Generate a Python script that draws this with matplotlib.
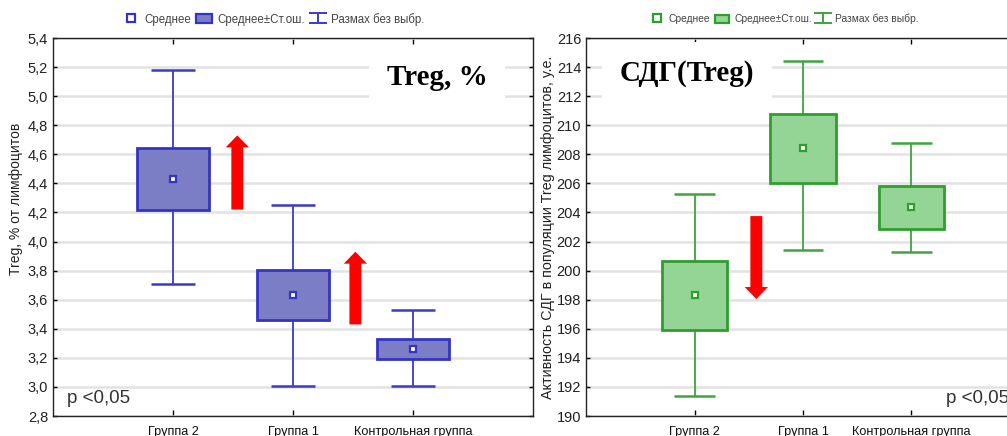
import matplotlib
matplotlib.use("Agg")
import matplotlib.pyplot as plt
from matplotlib.patches import Rectangle
from matplotlib.lines import Line2D
from matplotlib.path import Path
from matplotlib.ticker import FuncFormatter, MultipleLocator

plt.rcParams["font.family"] = ["Liberation Sans", "DejaVu Sans"]

# ---- data -------------------------------------------------------------
groups = ["Группа 2", "Группа 1", "Контрольная группа"]

treg_mean = [4.43, 3.635, 3.26]
treg_se = [0.215, 0.172, 0.07]
treg_min = [3.705, 3.005, 3.005]
treg_max = [5.18, 4.25, 3.527]

sdg_mean = [198.3, 208.4, 204.35]
sdg_se = [2.38, 2.4, 1.5]
sdg_min = [191.4, 201.4, 201.25]
sdg_max = [205.25, 214.45, 208.75]

# arrows: x position, start value, end value
treg_arrow_x = [1.536, 2.52]
treg_arrow_from = [4.22, 3.43]
treg_arrow_to = [4.73, 3.93]

sdg_arrow_x = [1.57]
sdg_arrow_from = [203.75]
sdg_arrow_to = [198.05]

legend_labels = ["Среднее", "Среднее±Ст.ош.", "Размах без выбр."]

# ---- styling ----------------------------------------------------------
BOX_W = 0.6
CAP_W = 0.37
W, H = 1007, 436

whisker_path = Path(
    [(-1, 0.6), (1, 0.6), (0, 0.6), (0, -0.6), (-1, -0.6), (1, -0.6)],
    [Path.MOVETO, Path.LINETO, Path.MOVETO, Path.LINETO, Path.MOVETO, Path.LINETO],
)


def comma(v, _pos, fmt):
    return fmt.format(v).replace(".", ",")


def draw_panel(ax, means, ses, mins, maxs, face, edge, wcolor,
               ylim, ystep, fmt, ylabel, tag, tag_xy,
               arrow_x, arrow_from, arrow_to, pval_xy,
               legend_x, legend_size, ylabel_xy, ylabel_size):
    xs = list(range(1, len(groups) + 1))
    ax.set_xlim(0, 4)
    ax.set_ylim(*ylim)
    ax.yaxis.set_major_locator(MultipleLocator(ystep))
    ax.yaxis.set_major_formatter(FuncFormatter(lambda v, p: comma(v, p, fmt)))
    ax.set_xticks(xs)
    ax.set_xticklabels(groups, fontsize=9.2, color="#111111")
    ax.yaxis.grid(True, color="#e2e2e2", linewidth=1.8, zorder=0)
    ax.set_axisbelow(True)
    ax.tick_params(axis="y", direction="in", length=3, width=1,
                   labelsize=10.5, labelcolor="#222222", pad=3.5,
                   right=True)
    ax.tick_params(axis="x", direction="in", length=4, width=1,
                   top=True, pad=7)
    for s in ax.spines.values():
        s.set_linewidth(1.0)
        s.set_color("#222222")

    for x, m, se, lo, hi in zip(xs, means, ses, mins, maxs):
        ax.vlines(x, lo, hi, color=wcolor, linewidth=1.3, zorder=2)
        ax.hlines([lo, hi], x - CAP_W / 2, x + CAP_W / 2,
                  color=wcolor, linewidth=1.8, zorder=2)
        ax.add_patch(Rectangle((x - BOX_W / 2, m - se), BOX_W, 2 * se,
                               facecolor=face, edgecolor=edge,
                               linewidth=2.0, zorder=3))
        ax.plot(x, m, marker="s", markersize=5, markerfacecolor="white",
                markeredgecolor=edge, markeredgewidth=1.6, zorder=4)

    for x, a, b in zip(arrow_x, arrow_from, arrow_to):
        ax.annotate("", xy=(x, b), xytext=(x, a),
                    arrowprops=dict(
                        arrowstyle="simple,head_length=1.0,head_width=1.95,tail_width=1.0",
                        mutation_scale=8.6, color="#ff0000", lw=0,
                        shrinkA=0, shrinkB=0),
                    zorder=5)

    ax.set_ylabel(ylabel, fontsize=ylabel_size, color="#222222")
    ax.yaxis.set_label_coords(*ylabel_xy)

    ax.text(*tag_xy, tag, transform=ax.transAxes, ha="center", va="center",
            fontsize=21, fontweight="bold", family="Liberation Serif",
            color="black", zorder=6,
            bbox=dict(boxstyle="square,pad=0.6", facecolor="white",
                      edgecolor="none"))

    ax.text(*pval_xy, "p <0,05", transform=ax.transAxes, ha="left",
            va="center", fontsize=13.5, color="#333333", zorder=6)

    handles = [
        Line2D([], [], linestyle="none", marker="s", markersize=5.5,
               markerfacecolor="white", markeredgecolor=edge,
               markeredgewidth=1.6),
        Rectangle((0, 0), 1, 1, facecolor=face, edgecolor=edge, linewidth=1.6),
        Line2D([], [], linestyle="none", marker=whisker_path, markersize=13,
               markeredgecolor=wcolor, markeredgewidth=1.4,
               markerfacecolor="none"),
    ]
    ax.legend(handles, legend_labels, loc="center",
              bbox_to_anchor=(legend_x, 1.05), ncol=3, frameon=False,
              fontsize=legend_size, handlelength=1.4, handleheight=0.9,
              handletextpad=0.45, columnspacing=0.45, labelcolor="#444444",
              borderaxespad=0)


fig = plt.figure(figsize=(W / 100, H / 100), dpi=100)
fig.patch.set_facecolor("white")

ax1 = fig.add_axes([53 / W, 20 / H, 480 / W, 378 / H])
ax2 = fig.add_axes([586 / W, 20 / H, 434 / W, 378 / H])

draw_panel(ax1, treg_mean, treg_se, treg_min, treg_max,
           face="#7b7ec4", edge="#3434c4", wcolor="#3a3acb",
           ylim=(2.8, 5.4), ystep=0.2, fmt="{:.1f}",
           ylabel="Treg, % от лимфоцитов", tag="Treg, %",
           tag_xy=(0.80, 0.895),
           arrow_x=treg_arrow_x, arrow_from=treg_arrow_from,
           arrow_to=treg_arrow_to,
           pval_xy=(0.03, 0.047), legend_x=0.46, legend_size=8.3,
           ylabel_xy=(-0.0625, 0.574), ylabel_size=10)

draw_panel(ax2, sdg_mean, sdg_se, sdg_min, sdg_max,
           face="#94d494", edge="#2f9e2f", wcolor="#3fa43f",
           ylim=(190, 216), ystep=2, fmt="{:.0f}",
           ylabel="Активность СДГ в популяции Treg лимфоцитов, у.е.",
           tag="СДГ(Treg)", tag_xy=(0.233, 0.907),
           arrow_x=sdg_arrow_x, arrow_from=sdg_arrow_from,
           arrow_to=sdg_arrow_to,
           pval_xy=(0.83, 0.047), legend_x=0.457, legend_size=7.4,
           ylabel_xy=(-0.071, 0.5), ylabel_size=10.3)

fig.savefig("out.png", dpi=100)
